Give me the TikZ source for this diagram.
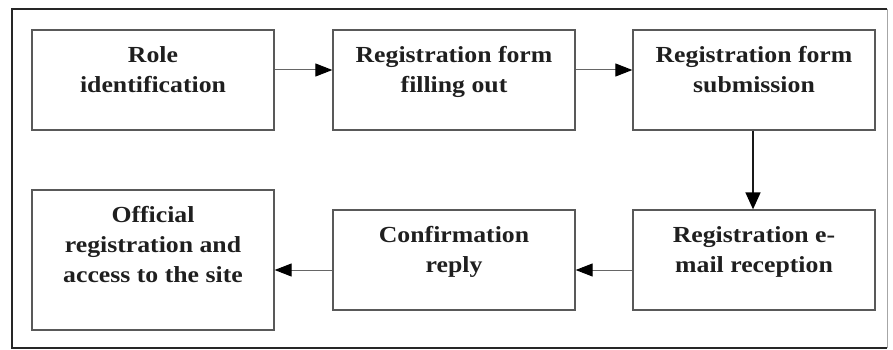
\documentclass[tikz,border=0pt]{standalone}
\usepackage{fontspec}
\setmainfont{Liberation Serif}[FakeStretch=1.12]
\usetikzlibrary{arrows.meta,calc}
\begin{document}
\begin{tikzpicture}[x=1pt,y=-1pt,
  stepbox/.style={draw=black!65,line width=1.3pt,rectangle,minimum width=242pt,inner sep=0pt},
  tall/.style={stepbox,minimum height=100pt},
  taller/.style={stepbox,minimum height=140pt},
  lbl/.style={align=center,anchor=north,inner sep=0pt,font=\fontsize{23}{30}\selectfont\bfseries,text=black!88},
  tip/.style={-{Triangle[length=17pt,width=13pt,color=black,fill=black]}},
  flow/.style={draw=black!60,line width=1pt,tip},
  flowv/.style={draw=black!90,line width=1.6pt,-{Triangle[length=17pt,width=15pt,color=black,fill=black]}}]
\useasboundingbox (0,0) rectangle (893,350);
% outer frame
\draw[black!85,line width=2pt] (887,9) -- (12,9) -- (12,348) -- (887,348);
\draw[black!35,line width=1pt] (887,9) -- (887,348);
% step boxes
\node[tall]   (b1) at (153,80)  {};
\node[tall]   (b2) at (454,80)  {};
\node[tall]   (b3) at (754,80)  {};
\node[taller] (b4) at (153,260) {};
\node[tall]   (b5) at (454,260) {};
\node[tall]   (b6) at (754,260) {};
% labels
\node[lbl] (t1) at ($(b1.north)+(0,17)$) {Role\\identification};
\node[lbl] (t2) at ($(b2.north)+(0,17)$) {Registration form\\filling out};
\node[lbl] (t3) at ($(b3.north)+(0,17)$) {Registration form\\submission};
\node[lbl] (t4) at ($(b4.north)+(0,17)$) {Official\\registration and\\access to the site};
\node[lbl] (t5) at ($(b5.north)+(0,17)$) {Confirmation\\reply};
\node[lbl] (t6) at ($(b6.north)+(0,17)$) {Registration e-\\mail reception};
% connectors
\draw[flow] (b1.east |- 0,70) -- (b2.west |- 0,70);
\draw[flow] (b2.east |- 0,70) -- (b3.west |- 0,70);
\draw[flowv] (b3.south -| 753,0) -- (b6.north -| 753,0);
\draw[flow] (b6.west |- 0,270) -- (b5.east |- 0,270);
\draw[flow] (b5.west |- 0,270) -- (b4.east |- 0,270);
\end{tikzpicture}
\end{document}
